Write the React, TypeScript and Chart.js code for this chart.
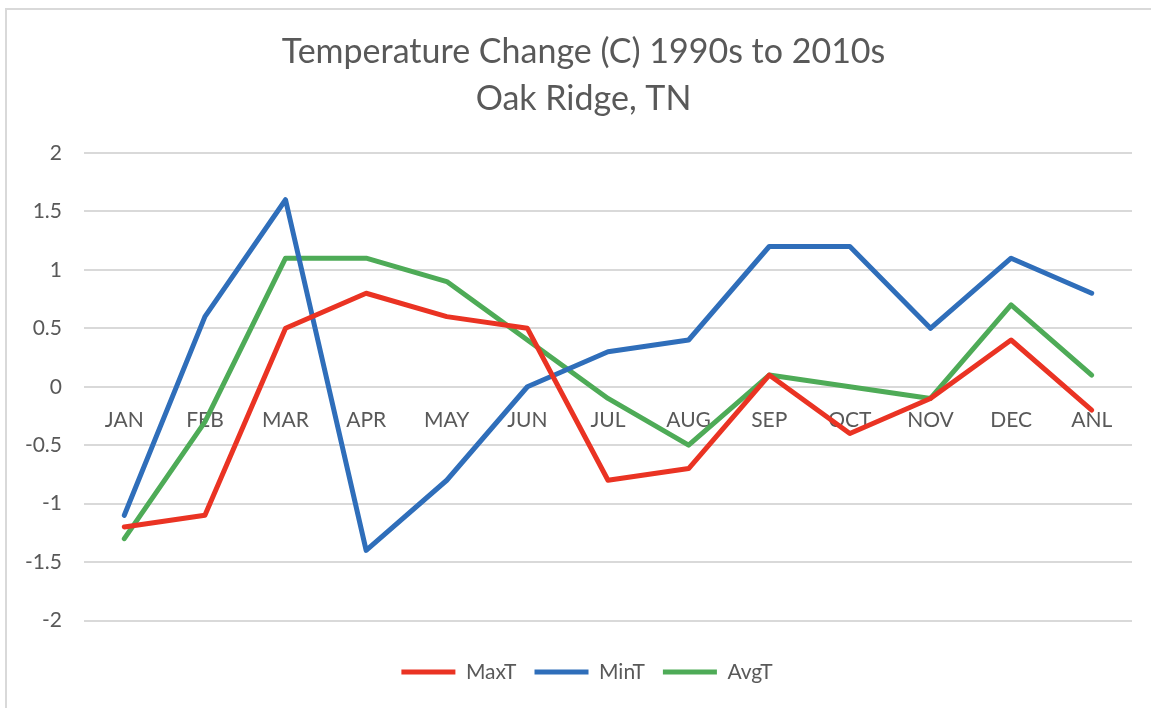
import React, { useEffect, useRef } from "react";
import { Chart, registerables } from "chart.js";

Chart.register(...registerables);

const categories = ["JAN", "FEB", "MAR", "APR", "MAY", "JUN", "JUL", "AUG", "SEP", "OCT", "NOV", "DEC", "ANL"];
const maxT = [-1.2, -1.1, 0.5, 0.8, 0.6, 0.5, -0.8, -0.7, 0.1, -0.4, -0.1, 0.4, -0.2];
const minT = [-1.1, 0.6, 1.6, -1.4, -0.8, 0.0, 0.3, 0.4, 1.2, 1.2, 0.5, 1.1, 0.8];
const avgT = [-1.3, -0.3, 1.1, 1.1, 0.9, 0.4, -0.1, -0.5, 0.1, 0.0, -0.1, 0.7, 0.1];
const titleLines = ["Temperature Change (C) 1990s to 2010s", "Oak Ridge, TN"];
const yMin = -2;
const yMax = 2;
const yStep = 0.5;

const TEXT = "#595959";
const FONT = "Lato, 'Open Sans', sans-serif";

const shiftBoxes = {
  id: "shiftBoxes",
  afterLayout(chart: any) {
    const l = chart.legend;
    if (l) l.left += 42;
    const t = chart.titleBlock;
    if (t) t.left += 35;
  },
};

export default function App() {
  const ref = useRef<HTMLCanvasElement | null>(null);

  useEffect(() => {
    if (!ref.current) return;
    const mk = (label: string, data: number[], color: string) => ({
      label,
      data,
      borderColor: color,
      backgroundColor: color,
      borderWidth: 5,
      pointRadius: 0,
      pointHoverRadius: 0,
      tension: 0,
      borderJoinStyle: "round" as const,
      borderCapStyle: "round" as const,
      pointStyle: "line" as const,
      fill: false,
    });
    const chart = new Chart(ref.current, {
      type: "line",
      data: {
        labels: categories,
        datasets: [
          mk("MaxT", maxT, "#EA3323"),
          mk("MinT", minT, "#2F6EBA"),
          mk("AvgT", avgT, "#4EAB57"),
        ],
      },
      plugins: [shiftBoxes],
      options: {
        responsive: false,
        animation: false,
        layout: { padding: { left: 0, right: 19, top: 10, bottom: 15.5 } },
        plugins: {
          tooltip: { enabled: false },
          title: {
            display: true,
            text: titleLines,
            color: TEXT,
            font: { family: FONT, size: 34, weight: "normal", lineHeight: 47 / 34 },
            padding: { top: 18.5, bottom: 30.5 },
          },
          legend: {
            display: true,
            position: "bottom",
            labels: {
              usePointStyle: true,
              pointStyleWidth: 54,
              color: TEXT,
              font: { family: FONT, size: 21 },
              padding: 18,
            },
            title: {
              display: true,
              text: "",
              padding: { top: 11, bottom: 0 },
              font: { size: 10 },
            },
          },
        },
        scales: {
          x: {
            type: "category",
            offset: true,
            position: { y: 0 } as any,
            grid: { display: false, drawTicks: false },
            border: { display: false },
            ticks: {
              color: TEXT,
              font: { family: FONT, size: 21 },
              padding: 21,
              maxRotation: 0,
              autoSkip: false,
            },
          },
          y: {
            min: yMin,
            max: yMax,
            grid: { color: "#d9d9d9", lineWidth: 2, drawTicks: false },
            border: { display: false },
            ticks: {
              stepSize: yStep,
              color: TEXT,
              font: { family: FONT, size: 21 },
              padding: 22,
              callback: (v: any) => String(Number(v)),
            },
            afterFit: (scale: any) => {
              scale.width = 84;
            },
          },
        },
      },
    });
    return () => chart.destroy();
  }, []);

  return (
    <div style={{ position: "fixed", left: 0, top: 0, width: 1151, height: 708, background: "#fff", overflow: "hidden" }}>
      <div
        style={{
          position: "absolute",
          left: 5,
          top: 8,
          width: 1200,
          height: 800,
          borderTop: "2px solid #d9d9d9",
          borderLeft: "2px solid #d9d9d9",
        }}
      />
      <canvas ref={ref} width={1151} height={708} style={{ position: "absolute", left: 0, top: 0, display: "block" }} />
    </div>
  );
}
